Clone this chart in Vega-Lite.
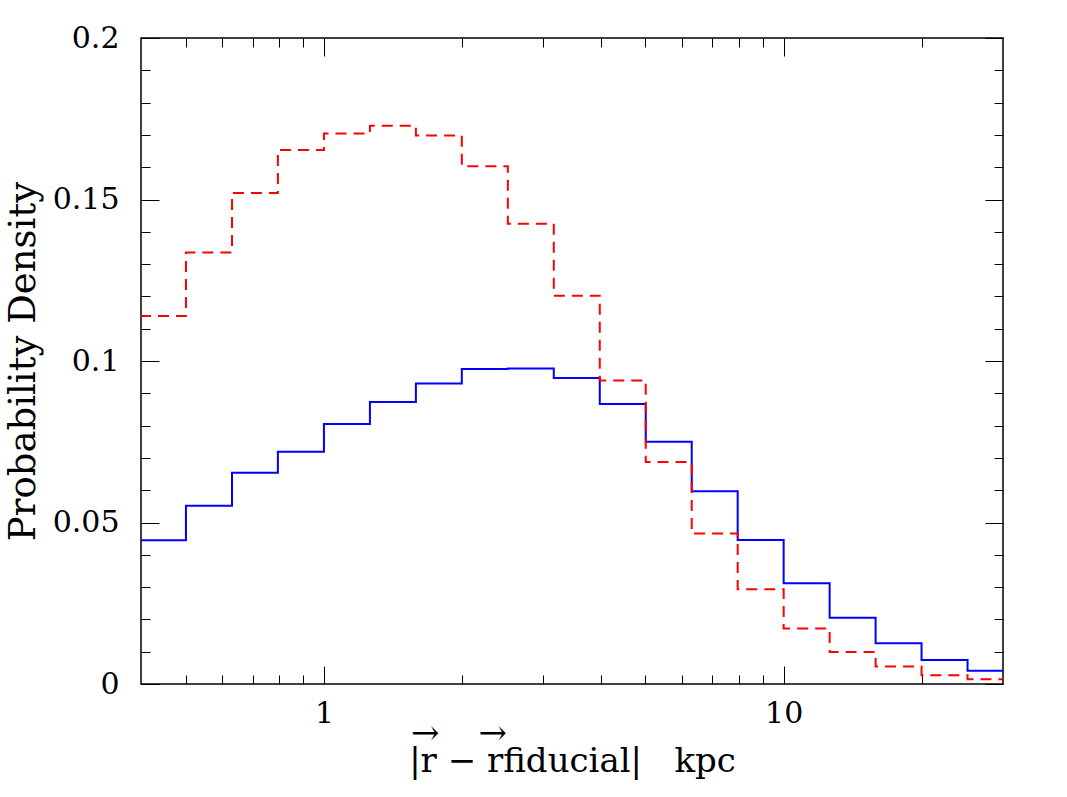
{
  "$schema": "https://vega.github.io/schema/vega-lite/v6.json",
  "width": 862,
  "height": 646,
  "autosize": {"type": "none"},
  "padding": {"left": 141, "top": 38, "right": 64, "bottom": 113},
  "background": "white",
  "config": {
    "view": {"stroke": "#000", "strokeWidth": 1.5},
    "axis": {
      "domain": false, "grid": false,
      "labelFont": "DejaVu Serif", "labelFontSize": 30, "labelColor": "#000",
      "titleFont": "DejaVu Serif", "titleFontSize": 34, "titleFontWeight": "normal", "titleColor": "#000",
      "tickColor": "#000", "tickWidth": 1, "labelFlush": false, "labelOverlap": false, "labelBound": false
    }
  },
  "data": {
    "values": [
      {"r": 0.398, "density": 0.0445, "series": "solid"},
      {"r": 0.501, "density": 0.0552, "series": "solid"},
      {"r": 0.631, "density": 0.0654, "series": "solid"},
      {"r": 0.794, "density": 0.0719, "series": "solid"},
      {"r": 1.0, "density": 0.0805, "series": "solid"},
      {"r": 1.259, "density": 0.0873, "series": "solid"},
      {"r": 1.585, "density": 0.093, "series": "solid"},
      {"r": 1.995, "density": 0.0975, "series": "solid"},
      {"r": 2.512, "density": 0.0977, "series": "solid"},
      {"r": 3.162, "density": 0.0947, "series": "solid"},
      {"r": 3.981, "density": 0.0867, "series": "solid"},
      {"r": 5.012, "density": 0.075, "series": "solid"},
      {"r": 6.31, "density": 0.0597, "series": "solid"},
      {"r": 7.943, "density": 0.0446, "series": "solid"},
      {"r": 10.0, "density": 0.0312, "series": "solid"},
      {"r": 12.59, "density": 0.0205, "series": "solid"},
      {"r": 15.85, "density": 0.0126, "series": "solid"},
      {"r": 19.95, "density": 0.0074, "series": "solid"},
      {"r": 25.12, "density": 0.0041, "series": "solid"},
      {"r": 31.62, "density": 0.0041, "series": "solid"},
      {"r": 0.398, "density": 0.1139, "series": "dashed"},
      {"r": 0.501, "density": 0.1336, "series": "dashed"},
      {"r": 0.631, "density": 0.152, "series": "dashed"},
      {"r": 0.794, "density": 0.1653, "series": "dashed"},
      {"r": 1.0, "density": 0.1704, "series": "dashed"},
      {"r": 1.259, "density": 0.1728, "series": "dashed"},
      {"r": 1.585, "density": 0.1698, "series": "dashed"},
      {"r": 1.995, "density": 0.1603, "series": "dashed"},
      {"r": 2.512, "density": 0.1425, "series": "dashed"},
      {"r": 3.162, "density": 0.1202, "series": "dashed"},
      {"r": 3.981, "density": 0.094, "series": "dashed"},
      {"r": 5.012, "density": 0.0687, "series": "dashed"},
      {"r": 6.31, "density": 0.0466, "series": "dashed"},
      {"r": 7.943, "density": 0.0293, "series": "dashed"},
      {"r": 10.0, "density": 0.0172, "series": "dashed"},
      {"r": 12.59, "density": 0.0099, "series": "dashed"},
      {"r": 15.85, "density": 0.0054, "series": "dashed"},
      {"r": 19.95, "density": 0.0027, "series": "dashed"},
      {"r": 25.12, "density": 0.0015, "series": "dashed"},
      {"r": 31.62, "density": 0.0015, "series": "dashed"}
    ]
  },
  "layer": [
    {
      "transform": [{"filter": "datum.series === 'solid'"}],
      "mark": {"type": "line", "interpolate": "step-after", "color": "#0000ff", "strokeWidth": 2, "clip": true},
      "encoding": {
        "x": {"field": "r", "type": "quantitative", "scale": {"type": "log", "domain": [0.4, 30], "nice": false},
          "axis": {"orient": "bottom", "values": [1, 10], "format": "~g", "ticks": false, "labelPadding": 14,
            "title": ["→\u00a0\u00a0\u00a0\u2009→\u00a0\u00a0\u00a0\u00a0\u00a0\u00a0\u00a0\u00a0\u00a0\u00a0\u00a0\u00a0\u00a0\u00a0\u00a0\u00a0\u00a0\u00a0\u00a0\u00a0\u00a0\u200b", "|r − rfiducial|\u00a0\u00a0\u00a0kpc"],
            "titlePadding": -12, "titleLineHeight": 28}},
        "y": {"field": "density", "type": "quantitative", "scale": {"domain": [0, 0.2], "nice": false, "zero": false},
          "axis": {"orient": "left", "values": [0, 0.05, 0.1, 0.15, 0.2], "format": "~g", "ticks": false, "labelPadding": 22, "title": "Probability Density", "titlePadding": 10, "titleFontSize": 37}}
      }
    },
    {
      "transform": [{"filter": "datum.series === 'dashed'"}],
      "mark": {"type": "line", "interpolate": "step-after", "color": "#ff0000", "strokeWidth": 2, "strokeDash": [11, 7], "clip": true},
      "encoding": {
        "x": {"field": "r", "type": "quantitative", "scale": {"type": "log", "domain": [0.4, 30], "nice": false},
          "axis": {"orient": "bottom", "values": [1, 10], "labels": false, "tickSize": -18, "title": null}},
        "y": {"field": "density", "type": "quantitative", "scale": {"domain": [0, 0.2], "nice": false, "zero": false},
          "axis": {"orient": "left", "values": [0, 0.05, 0.1, 0.15, 0.2], "labels": false, "tickSize": -18, "title": null}}
      }
    },
    {
      "mark": {"type": "point", "opacity": 0, "clip": true},
      "encoding": {
        "x": {"field": "r", "type": "quantitative", "scale": {"type": "log", "domain": [0.4, 30], "nice": false},
          "axis": {"orient": "bottom", "values": [0.5, 0.6, 0.7, 0.8, 0.9, 2, 3, 4, 5, 6, 7, 8, 9, 20], "labels": false, "tickSize": -9, "title": null}},
        "y": {"field": "density", "type": "quantitative", "scale": {"domain": [0, 0.2], "nice": false, "zero": false},
          "axis": {"orient": "left", "values": [0.01, 0.02, 0.03, 0.04, 0.06, 0.07, 0.08, 0.09, 0.11, 0.12, 0.13, 0.14, 0.16, 0.17, 0.18, 0.19], "labels": false, "tickSize": -9, "title": null}}
      }
    },
    {
      "mark": {"type": "point", "opacity": 0, "clip": true},
      "encoding": {
        "x": {"field": "r", "type": "quantitative", "scale": {"type": "log", "domain": [0.4, 30], "nice": false},
          "axis": {"orient": "top", "values": [1, 10], "labels": false, "tickSize": -18, "title": null}},
        "y": {"field": "density", "type": "quantitative", "scale": {"domain": [0, 0.2], "nice": false, "zero": false},
          "axis": {"orient": "right", "values": [0, 0.05, 0.1, 0.15, 0.2], "labels": false, "tickSize": -18, "title": null}}
      }
    },
    {
      "mark": {"type": "point", "opacity": 0, "clip": true},
      "encoding": {
        "x": {"field": "r", "type": "quantitative", "scale": {"type": "log", "domain": [0.4, 30], "nice": false},
          "axis": {"orient": "top", "values": [0.5, 0.6, 0.7, 0.8, 0.9, 2, 3, 4, 5, 6, 7, 8, 9, 20], "labels": false, "tickSize": -9, "title": null}},
        "y": {"field": "density", "type": "quantitative", "scale": {"domain": [0, 0.2], "nice": false, "zero": false},
          "axis": {"orient": "right", "values": [0.01, 0.02, 0.03, 0.04, 0.06, 0.07, 0.08, 0.09, 0.11, 0.12, 0.13, 0.14, 0.16, 0.17, 0.18, 0.19], "labels": false, "tickSize": -9, "title": null}}
      }
    }
  ],
  "resolve": {"axis": {"x": "independent", "y": "independent"}}
}
